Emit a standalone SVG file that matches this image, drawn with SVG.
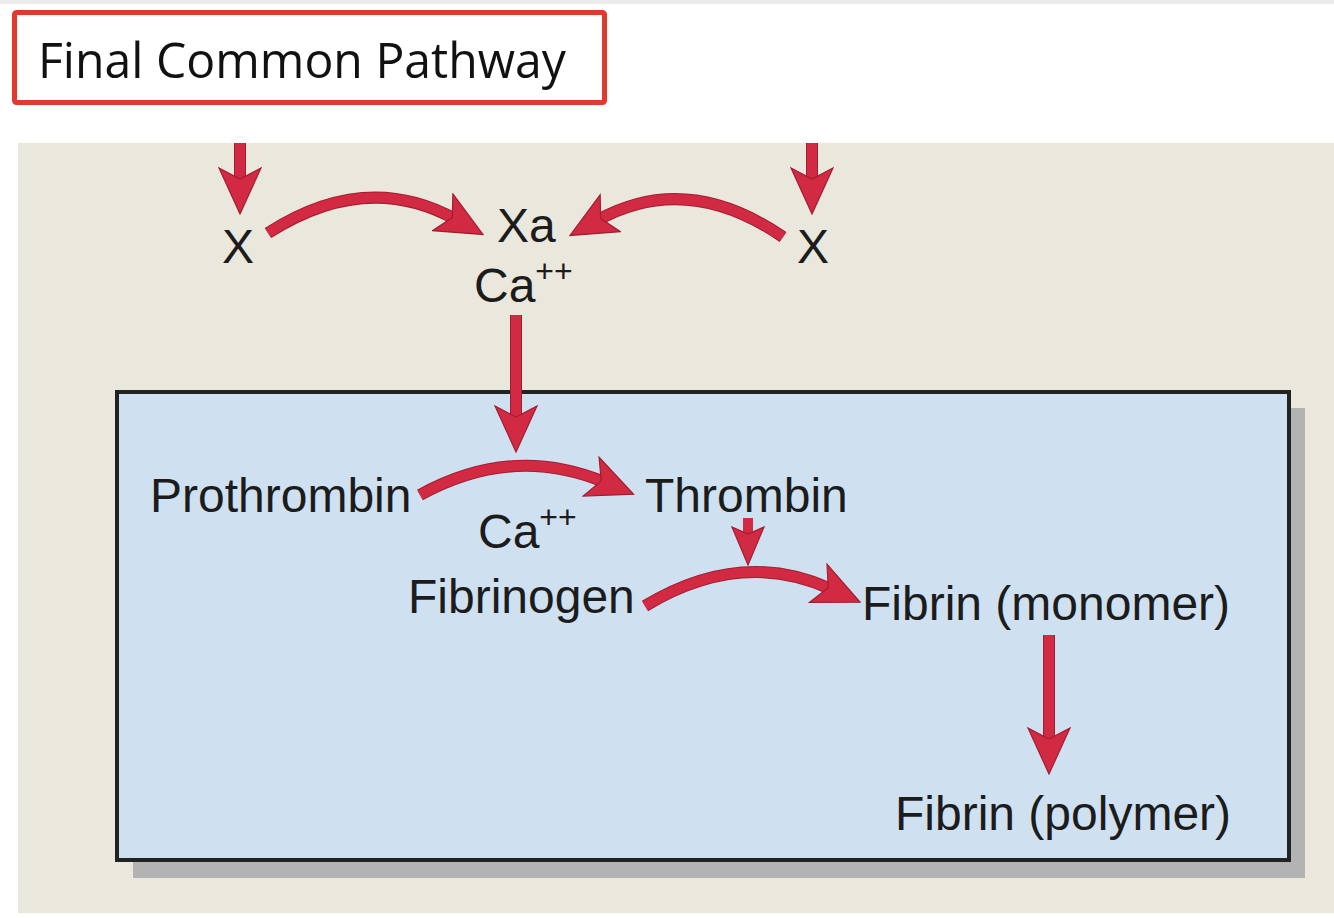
<svg xmlns="http://www.w3.org/2000/svg" width="1334" height="918" viewBox="0 0 1334 918">
<style>
.lbl{font-family:"Liberation Sans",Arial,sans-serif;font-size:48px;fill:#1c1c1c}
.sup{font-size:32px}
.shaft{fill:none;stroke:#d22a43;stroke-width:10;stroke-linecap:butt}
.under{fill:none;stroke:#a31d31;stroke-width:12;stroke-linecap:butt}
</style>
<defs>
<marker id="head" markerUnits="userSpaceOnUse" markerWidth="48" markerHeight="44" viewBox="0 0 48 44" refX="15" refY="22" orient="auto">
<path d="M1,1 L47,22 L1,43 L12,22 Z" fill="#d22a43" stroke="#a31d31" stroke-width="1.2"/>
</marker>
<marker id="headS" markerUnits="userSpaceOnUse" markerWidth="40" markerHeight="34" viewBox="0 0 40 34" refX="10" refY="17" orient="auto">
<path d="M1,1 L39,17 L1,33 L8,17 Z" fill="#d22a43" stroke="#a31d31" stroke-width="1.2"/>
</marker>
</defs>
<rect x="0" y="0" width="1334" height="918" fill="#ffffff"/>
<rect x="0" y="0" width="1334" height="4" fill="#ececec"/>
<g id="title">
<rect x="14.5" y="12.5" width="590" height="90" fill="#ffffff" stroke="#e0392d" stroke-width="5" rx="2"/>
<text x="38" y="78" font-family="'Open Sans','Noto Sans',sans-serif" font-size="50" fill="#111" textLength="528" lengthAdjust="spacingAndGlyphs">Final Common Pathway</text>
</g>
<rect id="panel" x="18" y="143" width="1316" height="770" fill="#eae7dc"/>
<g id="box">
<rect x="133" y="408" width="1172" height="470" fill="#b3b3b3"/>
<rect x="117" y="392" width="1172" height="468" fill="#cfe1f1" stroke="#222" stroke-width="4"/>
</g>
<g id="connectors">
<path class="under" d="M240,143 L240,182"/>
<path class="shaft" d="M240,143 L240,182" marker-end="url(#head)"/>
<path class="under" d="M812,143 L812,182"/>
<path class="shaft" d="M812,143 L812,182" marker-end="url(#head)"/>
<path class="under" d="M268,233 Q366,170 455,219"/>
<path class="shaft" d="M268,233 Q366,170 455,219" marker-end="url(#head)"/>
<path class="under" d="M783,237 Q687,171 598,220"/>
<path class="shaft" d="M783,237 Q687,171 598,220" marker-end="url(#head)"/>
<path class="under" d="M516,315 L516,420"/>
<path class="shaft" d="M516,315 L516,420" marker-end="url(#head)"/>
<path class="under" d="M420,495 Q512,444 604,482"/>
<path class="shaft" d="M420,495 Q512,444 604,482" marker-end="url(#head)"/>
<path class="shaft" d="M748,518 L748,536" marker-end="url(#headS)"/>
<path class="under" d="M645,606 Q741,548 831,589"/>
<path class="shaft" d="M645,606 Q741,548 831,589" marker-end="url(#head)"/>
<path class="under" d="M1049,635 L1049,742"/>
<path class="shaft" d="M1049,635 L1049,742" marker-end="url(#head)"/>
</g>
<g id="n-x-left"><text class="lbl" x="222" y="263">X</text></g>
<g id="n-xa"><text class="lbl" x="497" y="242">Xa</text></g>
<g id="n-ca-top"><text class="lbl" x="474" y="302">Ca<tspan class="sup" dy="-20">++</tspan></text></g>
<g id="n-x-right"><text class="lbl" x="797" y="263">X</text></g>
<g id="n-prothrombin"><text class="lbl" x="150" y="512">Prothrombin</text></g>
<g id="n-ca-mid"><text class="lbl" x="478" y="548">Ca<tspan class="sup" dy="-20">++</tspan></text></g>
<g id="n-thrombin"><text class="lbl" x="645" y="512">Thrombin</text></g>
<g id="n-fibrinogen"><text class="lbl" x="408" y="613">Fibrinogen</text></g>
<g id="n-fibrin-mono"><text class="lbl" x="862" y="620">Fibrin (monomer)</text></g>
<g id="n-fibrin-poly"><text class="lbl" x="895" y="830">Fibrin (polymer)</text></g>
</svg>
